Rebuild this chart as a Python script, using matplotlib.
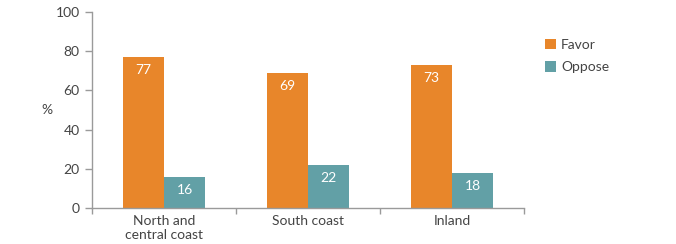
import matplotlib
matplotlib.use("Agg")
import matplotlib.pyplot as plt
import numpy as np

categories = ["North and\ncentral coast", "South coast", "Inland"]
favor = [77, 69, 73]
oppose = [16, 22, 18]
series_names = ["Favor", "Oppose"]
yticks = [0, 20, 40, 60, 80, 100]

plt.rcParams['font.family'] = ['Lato', 'DejaVu Sans']
fig = plt.figure(figsize=(6.76, 2.44), dpi=100)
ax = fig.add_axes([92/676, 36/244, 432/676, 196/244])

c_fav = "#E8862A"
c_opp = "#62A0A6"
txt = "#444444"
axc = "#9a9a9a"
fs = 10

x = np.arange(len(categories))
w = 0.285
b1 = ax.bar(x - w/2, favor, w, color=c_fav, label=series_names[0])
b2 = ax.bar(x + w/2, oppose, w, color=c_opp, label=series_names[1])
for bars, vals in ((b1, favor), (b2, oppose)):
    for r, v in zip(bars, vals):
        ax.text(r.get_x() + r.get_width()/2, v - 3.5, f"{v}", ha="center", va="top",
                color="white", fontsize=fs)

ax.set_xlim(-0.5, len(categories) - 0.5)
ax.set_ylim(0, 100)
ax.set_yticks(yticks)
ax.set_yticklabels([str(t) for t in yticks])
ax.set_xticks(x)
ax.set_xticklabels(categories)
ax.set_xticks(np.arange(len(categories) + 1) - 0.5, minor=True)
ax.tick_params(axis="x", which="major", length=0, labelsize=fs, colors=txt, pad=5)
ax.tick_params(axis="x", which="minor", length=4, color=axc, width=1)
ax.tick_params(axis="y", length=5, color=axc, width=1, labelsize=fs, labelcolor=txt, pad=4)
for s in ["top", "right"]:
    ax.spines[s].set_visible(False)
for s in ["left", "bottom"]:
    ax.spines[s].set_color(axc)
    ax.spines[s].set_linewidth(1)
ax.set_ylabel("%", rotation=0, color=txt, fontsize=fs, va="center")
ax.yaxis.set_label_coords(-0.105, 0.5)

leg = ax.legend(loc="upper left", bbox_to_anchor=(532/676, 1 - 26/244), bbox_transform=fig.transFigure,
                frameon=False, fontsize=fs, handlelength=0.8, handleheight=0.8,
                handletextpad=0.4, labelspacing=0.75, labelcolor=txt)
fig.savefig("out.png", dpi=100)
